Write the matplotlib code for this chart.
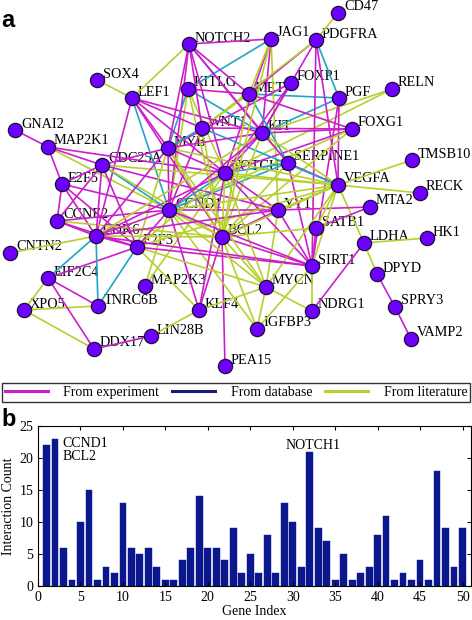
import numpy as np
import matplotlib.pyplot as plt
from matplotlib.lines import Line2D

# gene index (alphabetical) and interaction count, panel b
genes = ["BCL2", "CCND1", "CCNE2", "CD47", "CDC25A", "CDK6", "CNTN2", "DDX17", "DPYD", "E2F3",
         "E2F5", "EIF2C4", "FOXG1", "FOXP1", "GNAI2", "HK1", "IGFBP3", "JAG1", "KIT", "KITLG",
         "KLF4", "LDHA", "LEF1", "LIN28B", "MAP2K1", "MAP2K3", "MET", "MTA2", "MYB", "MYCN",
         "NDRG1", "NOTCH1", "NOTCH2", "PDGFRA", "PEA15", "PGF", "RECK", "RELN", "SATB1", "SERPINE1",
         "SIRT1", "SOX4", "SPRY3", "TMSB10", "TNRC6B", "VAMP2", "VEGFA", "WNT1", "XPO5", "YY1"]
counts = [22, 23, 6, 1, 10, 15, 1, 3, 2, 13,
          6, 5, 6, 3, 1, 1, 4, 6, 14, 6,
          6, 4, 9, 2, 5, 2, 8, 2, 13, 10,
          3, 21, 9, 7, 1, 5, 1, 2, 3, 8,
          11, 1, 2, 1, 4, 1, 18, 9, 3, 9]

# network layout (pixel coords of the figure), panel a
node_pos = {
    "NOTCH2": (189, 44), "SOX4": (97, 80), "LEF1": (132, 98), "KITLG": (188, 89),
    "GNAI2": (15, 130), "MAP2K1": (48, 147), "WNT1": (202, 128), "MYB": (168, 148),
    "CD47": (338, 13), "JAG1": (271, 39), "PDGFRA": (316, 40), "FOXP1": (291, 83),
    "MET": (249, 94), "PGF": (339, 98), "RELN": (392, 89), "KIT": (262, 133),
    "FOXG1": (352, 129), "SERPINE1": (288, 163), "TMSB10": (412, 160), "CDC25A": (102, 165),
    "E2F5": (62, 184), "NOTCH1": (225, 173), "CCND1": (169, 210), "CCNE2": (57, 221),
    "CDK6": (96, 236), "BCL2": (222, 237), "E2F3": (137, 247), "CNTN2": (10, 253),
    "EIF2C4": (48, 278), "MAP2K3": (145, 286), "XPO5": (24, 310), "TNRC6B": (98, 306),
    "KLF4": (199, 310), "VEGFA": (338, 185), "RECK": (420, 193), "YY1": (278, 210),
    "MTA2": (370, 207), "SATB1": (316, 228), "LDHA": (364, 243), "HK1": (427, 238),
    "SIRT1": (312, 266), "DPYD": (377, 274), "MYCN": (266, 287), "NDRG1": (312, 311),
    "SPRY3": (395, 307), "VAMP2": (411, 339), "IGFBP3": (257, 329), "PEA15": (225, 366),
    "LIN28B": (151, 336), "DDX17": (94, 349),
}

# e = experiment, d = database, l = literature
edges = [
    ("PDGFRA", "CD47", "l"), ("CDK6", "CNTN2", "l"), ("MAP2K1", "GNAI2", "e"), ("LDHA", "HK1", "l"),
    ("BCL2", "PEA15", "e"), ("VEGFA", "RECK", "l"), ("LEF1", "SOX4", "l"), ("VEGFA", "TMSB10", "l"),
    ("SPRY3", "VAMP2", "e"), ("DPYD", "SPRY3", "e"), ("LDHA", "DPYD", "l"), ("VEGFA", "LDHA", "l"),
    ("LDHA", "NDRG1", "e"), ("SIRT1", "NDRG1", "l"), ("MYCN", "NDRG1", "l"), ("YY1", "MTA2", "e"),
    ("SATB1", "MTA2", "e"), ("KIT", "RELN", "l"), ("NOTCH1", "RELN", "l"), ("TNRC6B", "XPO5", "l"),
    ("DDX17", "XPO5", "l"), ("EIF2C4", "XPO5", "l"), ("EIF2C4", "DDX17", "e"), ("EIF2C4", "TNRC6B", "e"),
    ("CDK6", "EIF2C4", "d"), ("E2F3", "EIF2C4", "e"), ("CDK6", "TNRC6B", "d"), ("E2F3", "TNRC6B", "d"),
    ("DDX17", "LIN28B", "e"), ("KLF4", "LIN28B", "l"), ("KLF4", "MYCN", "l"), ("MYCN", "IGFBP3", "l"),
    ("BCL2", "IGFBP3", "l"), ("CCND1", "IGFBP3", "l"), ("SIRT1", "IGFBP3", "l"), ("CCND1", "MAP2K3", "l"),
    ("NOTCH1", "MAP2K3", "l"), ("MET", "PGF", "d"), ("KIT", "PGF", "d"), ("PDGFRA", "PGF", "d"),
    ("VEGFA", "PGF", "e"), ("SIRT1", "PGF", "e"), ("NOTCH2", "JAG1", "e"), ("KITLG", "JAG1", "d"),
    ("NOTCH1", "JAG1", "e"), ("MET", "JAG1", "l"), ("KIT", "JAG1", "e"), ("YY1", "JAG1", "l"),
    ("PDGFRA", "MET", "e"), ("PDGFRA", "KIT", "e"), ("PDGFRA", "VEGFA", "e"), ("PDGFRA", "WNT1", "l"),
    ("PDGFRA", "SIRT1", "e"), ("FOXP1", "NOTCH1", "e"), ("FOXP1", "KIT", "e"), ("FOXP1", "MYB", "e"),
    ("FOXG1", "KIT", "e"), ("FOXG1", "MET", "e"), ("FOXG1", "NOTCH1", "e"), ("FOXG1", "WNT1", "e"),
    ("FOXG1", "BCL2", "l"), ("FOXG1", "CCND1", "l"), ("SERPINE1", "VEGFA", "e"), ("SERPINE1", "NOTCH1", "d"),
    ("SERPINE1", "KIT", "l"), ("SERPINE1", "MET", "d"), ("SERPINE1", "SIRT1", "e"), ("SERPINE1", "CCND1", "d"),
    ("SERPINE1", "BCL2", "l"), ("SERPINE1", "NOTCH2", "e"), ("SATB1", "SIRT1", "e"), ("SATB1", "VEGFA", "l"),
    ("KLF4", "CCND1", "e"), ("KLF4", "NOTCH1", "e"), ("KLF4", "BCL2", "e"), ("KLF4", "E2F3", "l"),
    ("MAP2K1", "CDC25A", "e"), ("MAP2K1", "E2F5", "e"), ("MAP2K1", "NOTCH1", "e"), ("MAP2K1", "CCND1", "l"),
    ("KITLG", "KIT", "d"), ("KITLG", "MET", "e"), ("KITLG", "MYB", "d"), ("KITLG", "NOTCH1", "l"),
    ("KITLG", "CCND1", "l"), ("MET", "NOTCH2", "e"), ("MET", "WNT1", "l"), ("NOTCH2", "WNT1", "e"),
    ("NOTCH2", "KIT", "e"), ("NOTCH2", "NOTCH1", "e"), ("NOTCH2", "MYB", "e"), ("NOTCH2", "CCND1", "e"),
    ("NOTCH2", "LEF1", "l"), ("LEF1", "CCND1", "d"), ("LEF1", "MYB", "e"), ("LEF1", "WNT1", "e"),
    ("LEF1", "KIT", "e"), ("LEF1", "NOTCH1", "e"), ("LEF1", "CDK6", "e"), ("LEF1", "BCL2", "e"),
    ("WNT1", "MYB", "d"), ("WNT1", "CCND1", "e"), ("WNT1", "VEGFA", "d"), ("WNT1", "BCL2", "l"),
    ("KIT", "NOTCH1", "e"), ("KIT", "BCL2", "l"), ("KIT", "VEGFA", "l"), ("KIT", "MYB", "e"),
    ("YY1", "NOTCH1", "e"), ("YY1", "BCL2", "e"), ("YY1", "CCND1", "e"), ("YY1", "SIRT1", "e"),
    ("YY1", "VEGFA", "l"), ("YY1", "CDC25A", "e"), ("YY1", "MYCN", "l"), ("SIRT1", "VEGFA", "l"),
    ("SIRT1", "NOTCH1", "e"), ("SIRT1", "BCL2", "e"), ("SIRT1", "E2F3", "e"), ("MYCN", "BCL2", "l"),
    ("MYCN", "CCND1", "l"), ("MYCN", "VEGFA", "l"), ("MYCN", "NOTCH1", "l"), ("MYCN", "E2F3", "l"),
    ("MYCN", "MYB", "l"), ("VEGFA", "NOTCH1", "l"), ("VEGFA", "BCL2", "l"), ("VEGFA", "CCND1", "l"),
    ("VEGFA", "CDC25A", "l"), ("VEGFA", "E2F3", "l"), ("VEGFA", "MYB", "l"), ("MYB", "CCND1", "e"),
    ("MYB", "BCL2", "l"), ("MYB", "CDC25A", "e"), ("MYB", "E2F3", "l"), ("MYB", "NOTCH1", "e"),
    ("NOTCH1", "CCND1", "d"), ("NOTCH1", "BCL2", "l"), ("NOTCH1", "CDK6", "e"), ("NOTCH1", "E2F3", "l"),
    ("E2F5", "CDK6", "e"), ("E2F5", "CCNE2", "e"), ("E2F5", "CCND1", "e"), ("E2F5", "CDC25A", "e"),
    ("E2F5", "E2F3", "e"), ("CCNE2", "CDK6", "e"), ("CCNE2", "E2F3", "e"), ("CCNE2", "CCND1", "e"),
    ("CCNE2", "BCL2", "l"), ("CCNE2", "CDC25A", "e"), ("CDC25A", "CDK6", "e"), ("CDC25A", "CCND1", "d"),
    ("CDC25A", "BCL2", "l"), ("CDC25A", "E2F3", "e"), ("E2F3", "CDK6", "e"), ("E2F3", "CCND1", "e"),
    ("CDK6", "CCND1", "e"), ("CDK6", "BCL2", "l"), ("CCND1", "BCL2", "l"), ("CDK6", "MYB", "e"),
    ("CDK6", "KIT", "l"), ("CDK6", "YY1", "e"), ("CDK6", "SIRT1", "e"), ("BCL2", "MET", "l"),
    ("BCL2", "KITLG", "l"), ("BCL2", "JAG1", "l"), ("BCL2", "SATB1", "l"), ("CCND1", "KIT", "e"),
    ("CCND1", "SIRT1", "e"),
]

edge_colors = {"e": "#cc1fcc", "d": "#20a4c8", "l": "#b8cf30"}
serif = "Liberation Serif"

fig = plt.figure(figsize=(4.72, 6.2), dpi=100)

# ---- panel a: network
net = fig.add_axes([0, 0, 1, 1])
net.set_xlim(0, 472)
net.set_ylim(620, 0)
net.axis("off")

for a, b, src in edges:
    (x1, y1), (x2, y2) = node_pos[a], node_pos[b]
    net.plot([x1, x2], [y1, y2], color=edge_colors[src], lw=1.2, zorder=2,
             solid_capstyle="butt")

names = list(node_pos.keys())
xs = [node_pos[n][0] for n in names]
ys = [node_pos[n][1] for n in names]
for n, x, y in zip(names, xs, ys):
    net.text(x + 6, y - 6, n, fontsize=10.3, family=serif, ha="left", va="center", zorder=1)
net.scatter(xs, ys, s=105, c="#6e00ff", edgecolors="#1a1030", linewidths=0.9, zorder=4)

net.text(1, 27, "a", fontsize=17, fontweight="bold", family="Liberation Sans", va="baseline")
net.text(1, 426, "b", fontsize=17, fontweight="bold", family="Liberation Sans", va="baseline")

handles = [Line2D([], [], color="#cc1fcc", lw=2.2),
           Line2D([], [], color="#1a1a80", lw=2.2),
           Line2D([], [], color="#b8cf30", lw=2.2)]
labels = ["From experiment", "From database", "From literature"]
leg = fig.legend(handles, labels, ncol=3, loc="center",
                 bbox_to_anchor=(2 / 472, 1 - 402 / 620, 468 / 472, 19 / 620),
                 mode="expand", borderaxespad=0, fancybox=False, handlelength=3.1,
                 prop={"family": serif, "size": 10}, borderpad=0.2, handletextpad=1.1)
leg.get_frame().set_edgecolor("black")
leg.get_frame().set_linewidth(1.0)

# ---- panel b: bars
ax = fig.add_axes([38 / 472, 1 - 586 / 620, 433 / 472, 160 / 620])
idx = np.arange(1, len(counts) + 1)
ax.bar(idx, counts, width=0.8, color="#0b178c", edgecolor="#0b178c", linewidth=0.3)
ax.set_xlim(0, 51)
ax.set_ylim(0, 25)
ax.set_xticks(range(0, 51, 5))
ax.set_yticks(range(0, 26, 5))
ax.tick_params(direction="in", top=True, right=True, length=3, labelsize=10)
for lab in ax.get_xticklabels() + ax.get_yticklabels():
    lab.set_family(serif)
ax.set_xlabel("Gene Index", family=serif, fontsize=10, labelpad=1)
ax.set_ylabel("Interaction Count", family=serif, fontsize=10, labelpad=3)

ax.text(2.86, 22.3, "CCND1", family=serif, fontsize=10, va="center", ha="left")
ax.text(2.86, 20.3, "BCL2", family=serif, fontsize=10, va="center", ha="left")
ax.text(32.4, 22.0, "NOTCH1", family=serif, fontsize=10, va="center", ha="center")

fig.savefig("out.png", dpi=100)
